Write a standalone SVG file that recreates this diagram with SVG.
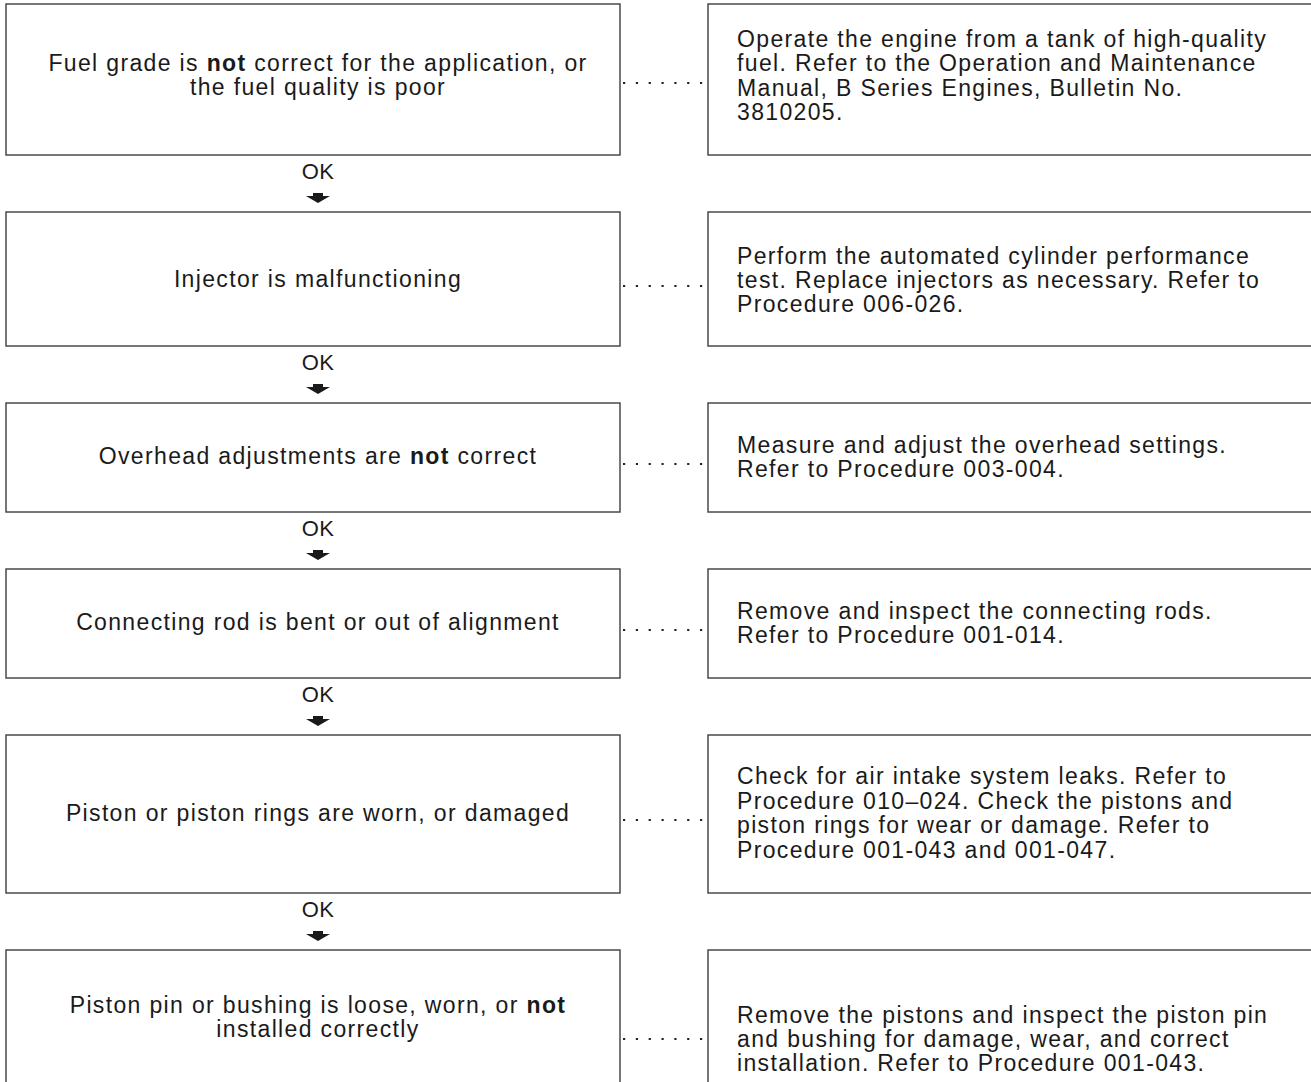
<svg xmlns="http://www.w3.org/2000/svg" width="1311" height="1082" viewBox="0 0 1311 1082">
<style>
.box{fill:#fff;stroke:#4a4a4a;stroke-width:1.5}
.t{font-family:"Liberation Sans",Arial,sans-serif;font-size:23px;letter-spacing:1.35px;fill:#1a1a1a}
.c{text-anchor:middle}
.ok{font-family:"Liberation Sans",Arial,sans-serif;font-size:22px;letter-spacing:0.3px;fill:#1a1a1a;text-anchor:middle}
.dot{stroke:#222;stroke-width:2.2;stroke-dasharray:2.2 10.63}
.arr{fill:#1a1a1a}
</style>
<rect width="1311" height="1082" fill="#fff"/>
<g id="connectors">
<line class="dot" x1="623" y1="83" x2="703" y2="83"/>
<line class="dot" x1="623" y1="286" x2="703" y2="286"/>
<line class="dot" x1="623" y1="464" x2="703" y2="464"/>
<line class="dot" x1="623" y1="630" x2="703" y2="630"/>
<line class="dot" x1="623" y1="820" x2="703" y2="820"/>
<line class="dot" x1="623" y1="1039" x2="703" y2="1039"/>
<text class="ok" x="318" y="179">OK</text>
<path class="arr" d="M313,193H323V196H330L318,203L306,196H313Z"/>
<text class="ok" x="318" y="370">OK</text>
<path class="arr" d="M313,384H323V387H330L318,394L306,387H313Z"/>
<text class="ok" x="318" y="536">OK</text>
<path class="arr" d="M313,550H323V553H330L318,560L306,553H313Z"/>
<text class="ok" x="318" y="702">OK</text>
<path class="arr" d="M313,716H323V719H330L318,726L306,719H313Z"/>
<text class="ok" x="318" y="917">OK</text>
<path class="arr" d="M313,931H323V934H330L318,941L306,934H313Z"/>
</g>
<g id="n1">
<rect class="box" x="6" y="4" width="614" height="151"/>
<text class="t c" x="318" y="71">Fuel grade is <tspan font-weight="bold">not</tspan> correct for the application, or</text>
<text class="t c" x="318" y="95">the fuel quality is poor</text>
</g>
<g id="a1">
<rect class="box" x="708" y="4" width="620" height="151"/>
<text class="t" x="737" y="47">Operate the engine from a tank of high-quality</text>
<text class="t" x="737" y="71.3">fuel. Refer to the Operation and Maintenance</text>
<text class="t" x="737" y="95.6">Manual, B Series Engines, Bulletin No.</text>
<text class="t" x="737" y="120">3810205.</text>
</g>
<g id="n2">
<rect class="box" x="6" y="212" width="614" height="134"/>
<text class="t c" x="318" y="287">Injector is malfunctioning</text>
</g>
<g id="a2">
<rect class="box" x="708" y="212" width="620" height="134"/>
<text class="t" x="737" y="264">Perform the automated cylinder performance</text>
<text class="t" x="737" y="288">test. Replace injectors as necessary. Refer to</text>
<text class="t" x="737" y="312">Procedure 006-026.</text>
</g>
<g id="n3">
<rect class="box" x="6" y="403" width="614" height="109"/>
<text class="t c" x="318" y="464">Overhead adjustments are <tspan font-weight="bold">not</tspan> correct</text>
</g>
<g id="a3">
<rect class="box" x="708" y="403" width="620" height="109"/>
<text class="t" x="737" y="453">Measure and adjust the overhead settings.</text>
<text class="t" x="737" y="477">Refer to Procedure 003-004.</text>
</g>
<g id="n4">
<rect class="box" x="6" y="569" width="614" height="109"/>
<text class="t c" x="318" y="630">Connecting rod is bent or out of alignment</text>
</g>
<g id="a4">
<rect class="box" x="708" y="569" width="620" height="109"/>
<text class="t" x="737" y="618.5">Remove and inspect the connecting rods.</text>
<text class="t" x="737" y="643">Refer to Procedure 001-014.</text>
</g>
<g id="n5">
<rect class="box" x="6" y="735" width="614" height="158"/>
<text class="t c" x="318" y="821">Piston or piston rings are worn, or damaged</text>
</g>
<g id="a5">
<rect class="box" x="708" y="735" width="620" height="158"/>
<text class="t" x="737" y="784">Check for air intake system leaks. Refer to</text>
<text class="t" x="737" y="808.5">Procedure 010–024. Check the pistons and</text>
<text class="t" x="737" y="833">piston rings for wear or damage. Refer to</text>
<text class="t" x="737" y="857.5">Procedure 001-043 and 001-047.</text>
</g>
<g id="n6">
<rect class="box" x="6" y="950" width="614" height="150"/>
<text class="t c" x="318" y="1013">Piston pin or bushing is loose, worn, or <tspan font-weight="bold">not</tspan></text>
<text class="t c" x="318" y="1037">installed correctly</text>
</g>
<g id="a6">
<rect class="box" x="708" y="950" width="620" height="150"/>
<text class="t" x="737" y="1023">Remove the pistons and inspect the piston pin</text>
<text class="t" x="737" y="1047">and bushing for damage, wear, and correct</text>
<text class="t" x="737" y="1071">installation. Refer to Procedure 001-043.</text>
</g>
</svg>
